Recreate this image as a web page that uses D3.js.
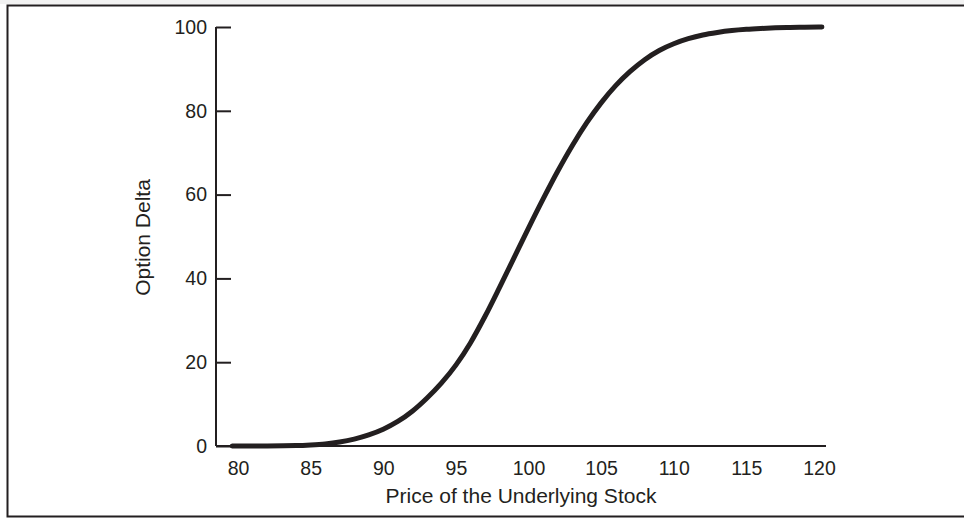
<!DOCTYPE html>
<html>
<head>
<meta charset="utf-8">
<script src="https://cdn.jsdelivr.net/npm/d3@7"></script>
<style>
  html, body { margin: 0; padding: 0; background: #ffffff; }
  svg { display: block; }
  text { font-family: "Liberation Sans", Arial, Helvetica, sans-serif; fill: #231f20; }
</style>
</head>
<body>
<svg id="chart" width="964" height="518"></svg>
<script>
// ---- data ----
const prices = [79.6, 82, 84, 85, 86, 87, 88, 89, 90, 91, 92, 93, 94, 95, 96, 97, 98, 99, 100,
                101, 102, 103, 104, 105, 106, 107, 108, 109, 110, 111, 112, 113, 114, 115,
                116, 117, 118, 119, 120.2];
const deltas = [0, 0.02, 0.1, 0.25, 0.5, 0.95, 1.65, 2.65, 4.0, 5.85, 8.3, 11.4, 15.0, 19.3, 24.6, 30.9, 37.8, 44.9, 52.0,
                58.9, 65.5, 71.6, 77.1, 81.9, 86.0, 89.4, 92.2, 94.4, 96.0, 97.2, 98.1, 98.7, 99.15, 99.45,
                99.65, 99.8, 99.9, 99.96, 100];
const xTicks = [80, 85, 90, 95, 100, 105, 110, 115, 120];
const yTicks = [0, 20, 40, 60, 80, 100];
const xTitle = "Price of the Underlying Stock";
const yTitle = "Option Delta";

// ---- layout ----
const ink = "#231f20";
const svg = d3.select("#chart");

// frame
svg.append("rect").attr("x", 0).attr("y", 0).attr("width", 964).attr("height", 4).attr("fill", "#f2f2f2");
svg.append("path")
  .attr("d", "M964,5.5 H7.5 V516.5 H964")
  .attr("fill", "none").attr("stroke", ink).attr("stroke-width", 2);

const x = d3.scaleLinear().domain([80, 120]).range([238, 819]);
const y = d3.scaleLinear().domain([0, 100]).range([446, 27]);
const axisX0 = 216, axisX1 = 826;

// y axis line
svg.append("line")
  .attr("x1", axisX0).attr("x2", axisX0)
  .attr("y1", y(100)).attr("y2", y(0))
  .attr("stroke", ink).attr("stroke-width", 2);
// x axis line
svg.append("line")
  .attr("x1", axisX0).attr("x2", axisX1)
  .attr("y1", y(0)).attr("y2", y(0))
  .attr("stroke", ink).attr("stroke-width", 2);

// y ticks (pointing inward)
const yAxis = d3.axisRight(y).tickValues(yTicks).tickSize(15).tickFormat("");
const gy = svg.append("g").attr("transform", `translate(${axisX0},0)`).call(yAxis);
gy.select(".domain").remove();
gy.selectAll(".tick line").attr("stroke", ink).attr("stroke-width", 2);

// y tick labels
svg.append("g").selectAll("text").data(yTicks).join("text")
  .attr("x", 207).attr("y", d => y(d)).attr("dy", "0.35em")
  .attr("text-anchor", "end").attr("font-size", 19.5)
  .text(d => d);

// x tick labels (no tick marks)
const xAxis = d3.axisBottom(x).tickValues(xTicks).tickSize(0);
const gx = svg.append("g").attr("transform", `translate(0,${y(0)})`).call(xAxis);
gx.select(".domain").remove();
gx.selectAll(".tick text")
  .attr("y", 29).attr("dy", 0)
  .attr("font-size", 19.5).attr("fill", ink)
  .attr("font-family", '"Liberation Sans", Arial, Helvetica, sans-serif');

// titles
svg.append("text").attr("x", 521).attr("y", 503).attr("text-anchor", "middle")
  .attr("font-size", 21).text(xTitle);
svg.append("text").attr("transform", "translate(150,237.5) rotate(-90)")
  .attr("text-anchor", "middle").attr("font-size", 21).text(yTitle);

// curve
const pts = prices.map((p, i) => [p, deltas[i]]);
const line = d3.line().x(d => x(d[0])).y(d => y(d[1])).curve(d3.curveMonotoneX);
svg.append("path").datum(pts)
  .attr("d", line)
  .attr("fill", "none").attr("stroke", ink)
  .attr("stroke-width", 5).attr("stroke-linecap", "round").attr("stroke-linejoin", "round");
</script>
</body>
</html>
